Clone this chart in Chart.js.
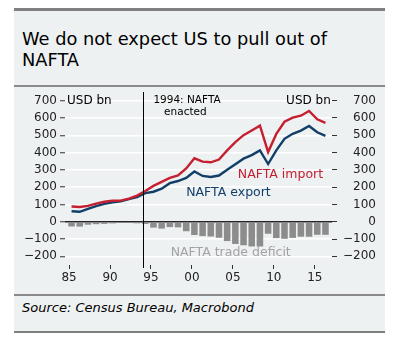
<!DOCTYPE html>
<html><head><meta charset="utf-8">
<script src="https://cdn.jsdelivr.net/npm/chart.js@4.4.0/dist/chart.umd.min.js"></script>
<style>
html,body{margin:0;padding:0;background:#fff;}
body{width:393px;height:345px;position:relative;overflow:hidden;font-family:"DejaVu Sans",sans-serif;color:#000;}
#card{position:absolute;left:14px;top:8px;width:371px;height:325px;background:#eef1f2;border-top:3.5px solid #7f7f7f;border-bottom:2px solid #7f7f7f;box-sizing:border-box;}
#title{position:absolute;left:22px;top:28px;font-size:17.8px;line-height:21px;color:#000;white-space:nowrap;}
#sep1{position:absolute;left:14px;top:85px;width:371px;height:2px;background:#8a8a8a}
#chartbox{position:absolute;left:14px;top:87px;width:371px;height:207px;}
#sep2{position:absolute;left:14px;top:294px;width:371px;height:1.5px;background:#8a8a8a}
#source{position:absolute;left:22px;top:300px;font-size:13px;line-height:16px;font-style:italic;white-space:nowrap;}
</style>
</head><body>
<div id="card"></div>
<div id="title">We do not expect US to pull out of<br>NAFTA</div>
<div id="sep1"></div>
<div id="chartbox"><canvas id="c"></canvas></div>
<div id="sep2"></div>
<div id="source">Source: Census Bureau, Macrobond</div>
<script>
// Data (USD bn), annual
const years = [1985,1986,1987,1988,1989,1990,1991,1992,1993,1994,1995,1996,1997,1998,1999,2000,2001,2002,2003,2004,2005,2006,2007,2008,2009,2010,2011,2012,2013,2014,2015,2016];
const naftaImport = [88.1,85.6,91.4,104.7,115.4,121.6,122.2,133.8,151.1,177.9,207.4,230.6,254.0,267.9,308.4,366.7,347.6,343.7,359.7,412.3,460.5,500.7,527.8,555.4,402.9,507.5,578.2,601.9,613.1,640.3,592.6,572.0];
const naftaExport = [60.9,57.7,74.4,90.6,103.0,112.0,118.3,131.2,142.0,165.2,173.5,191.0,223.2,235.4,253.5,290.2,264.7,258.4,267.3,300.7,332.1,364.7,384.9,412.3,333.6,413.0,479.6,508.6,526.9,553.8,517.3,496.5];
const tradeDeficit = [-27.2,-27.9,-17.0,-14.1,-12.4,-9.6,-3.9,-2.6,-9.1,-12.7,-33.9,-39.6,-30.8,-32.5,-54.9,-76.5,-82.9,-85.3,-92.4,-111.6,-128.4,-136.0,-142.9,-143.1,-69.3,-94.5,-98.6,-93.3,-86.2,-86.5,-75.3,-75.5];
const xTickYears = [1985,1990,1995,2000,2005,2010,2015];
const yTicks = [-200,-100,0,100,200,300,400,500,600,700];
const enactedYear = 1994;
const seriesNames = ['NAFTA import','NAFTA export','NAFTA trade deficit'];

const PERIOD_POS = 0.3; // observation placed within the year
const RED = '#c4202f', BLUE = '#123f68', BARGRAY = '#8c8c8c', LABELGRAY = '#a3a3a3';
const FONT = '"DejaVu Sans", sans-serif';

const pts = arr => years.map((yr,i)=>({x: yr + PERIOD_POS, y: arr[i]}));
const fmtY = v => v < 0 ? '\u2212' + Math.abs(v) : String(v);

const overlay = {
  id: 'overlay',
  afterDatasetsDraw(chart){
    const {ctx, chartArea:a, scales:{x,y}} = chart;
    ctx.save();
    const vx = Math.round(x.getPixelForValue(enactedYear)) + 0.5;
    ctx.strokeStyle = '#000'; ctx.lineWidth = 1;
    ctx.beginPath(); ctx.moveTo(vx, a.top); ctx.lineTo(vx, a.bottom + 3); ctx.stroke();
    ctx.textBaseline = 'middle';
    ctx.fillStyle = '#000';
    ctx.font = '10.5px ' + FONT; ctx.textAlign = 'center';
    ctx.fillText('1994: NAFTA', x.getPixelForValue(1999.4), y.getPixelForValue(700));
    ctx.fillText('enacted', x.getPixelForValue(1999.2), y.getPixelForValue(631));
    ctx.font = '12px ' + FONT;
    ctx.textAlign = 'left';
    ctx.fillText('USD bn', x.getPixelForValue(1984.75), y.getPixelForValue(700));
    ctx.textAlign = 'right';
    ctx.fillText('USD bn', x.getPixelForValue(2016.95), y.getPixelForValue(700));
    ctx.font = '12.5px ' + FONT; ctx.textAlign = 'left';
    ctx.fillStyle = RED; ctx.fillText(seriesNames[0], x.getPixelForValue(2005.6), y.getPixelForValue(274));
    ctx.fillStyle = BLUE; ctx.fillText(seriesNames[1], x.getPixelForValue(1999.3), y.getPixelForValue(165));
    ctx.fillStyle = LABELGRAY; ctx.fillText(seriesNames[2], x.getPixelForValue(1997.4), y.getPixelForValue(-180));
    ctx.restore();
  }
};

const yAxisCommon = {
  type: 'linear', min: -250, max: 750,
  afterBuildTicks: ax => { ax.ticks = yTicks.map(v => ({value: v})); },
  border: {display: false},
  ticks: {font: {family: FONT, size: 12}, color: '#222', padding: 3, callback: fmtY, autoSkip: false}
};

new Chart(document.getElementById('c'), {
  type: 'bar',
  data: {
    datasets: [
      {type: 'line', label: seriesNames[0], data: pts(naftaImport), borderColor: RED, borderWidth: 2.4, pointRadius: 0, tension: 0, order: 1, yAxisID: 'y'},
      {type: 'line', label: seriesNames[1], data: pts(naftaExport), borderColor: BLUE, borderWidth: 2.4, pointRadius: 0, tension: 0, order: 2, yAxisID: 'y'},
      {type: 'bar', label: seriesNames[2], data: pts(tradeDeficit), backgroundColor: BARGRAY, barPercentage: 0.8, categoryPercentage: 1, order: 3, yAxisID: 'y'}
    ]
  },
  options: {
    responsive: true, maintainAspectRatio: false, animation: false, devicePixelRatio: 1,
    layout: {padding: {top: 5, right: 9, left: 0, bottom: 0}, autoPadding: false},
    plugins: {legend: {display: false}, tooltip: {enabled: false}},
    scales: {
      x: {
        type: 'linear', min: 1984.5, max: 2017.1, offset: false,
        afterBuildTicks: ax => { ax.ticks = xTickYears.map(v => ({value: v})); },
        afterFit: ax => { ax.height = 29; ax.paddingLeft = 0; ax.paddingRight = 0; },
        border: {display: false},
        grid: {drawOnChartArea: false, drawTicks: true, tickLength: 4, tickColor: '#333', tickWidth: 1, offset: false},
        ticks: {font: {family: FONT, size: 12}, color: '#222', padding: 2, maxRotation: 0, autoSkip: false,
          callback: v => String(v % 100).padStart(2, '0')}
      },
      y: Object.assign({}, yAxisCommon, {
        position: 'left',
        afterFit: ax => { ax.width = 51; ax.paddingTop = 0; ax.paddingBottom = 0; },
        grid: {color: ctx => ctx.tick && ctx.tick.value === 0 ? '#222' : '#ffffff', lineWidth: ctx => ctx.tick && ctx.tick.value === 0 ? 1.5 : 1.5,
               tickColor: '#333', tickLength: 5, tickWidth: 1}
      }),
      y2: Object.assign({}, yAxisCommon, {
        position: 'right',
        afterFit: ax => { ax.width = 44; ax.paddingTop = 0; ax.paddingBottom = 0; },
        grid: {drawOnChartArea: false, tickColor: '#333', tickLength: 5, tickWidth: 1},
        ticks: Object.assign({}, yAxisCommon.ticks, {crossAlign: 'far'})
      })
    }
  },
  plugins: [overlay]
});
</script>
</body></html>
